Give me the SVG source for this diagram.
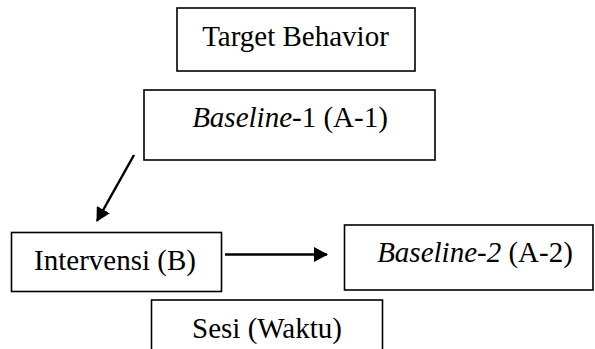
<svg xmlns="http://www.w3.org/2000/svg" width="595" height="349" viewBox="0 0 595 349">
<style>
.box{fill:#fff;stroke:#000;stroke-width:1.6}
.t{font-family:"Liberation Serif","Times New Roman",serif;font-size:29px;fill:#000;text-anchor:middle}
.c{stroke:#000;stroke-width:2.5;fill:none}
</style>
<defs>
<marker id="ah" viewBox="0 0 14 15" refX="13" refY="7.5" markerWidth="14" markerHeight="15" orient="auto" markerUnits="userSpaceOnUse">
<path d="M0,0 L14,7.5 L0,15 z" fill="#000"/>
</marker>
</defs>
<rect width="595" height="349" fill="#fff"/>
<g id="target">
<rect class="box" x="177" y="8" width="238" height="63"/>
<text class="t" x="295.5" y="46">Target Behavior</text>
</g>
<g id="baseline1">
<rect class="box" x="144" y="90" width="291" height="70"/>
<text class="t" x="290" y="126.5"><tspan font-style="italic">Baseline</tspan>-1 (A-1)</text>
</g>
<g id="intervensi">
<rect class="box" x="11.5" y="232.5" width="210" height="59"/>
<text class="t" x="115" y="269.5">Intervensi (B)</text>
</g>
<g id="baseline2">
<rect class="box" x="344.5" y="225" width="248.5" height="65"/>
<text class="t" x="475" y="262"><tspan font-style="italic">Baseline-2</tspan> (A-2)</text>
</g>
<g id="sesi">
<rect class="box" x="151.5" y="300" width="231" height="60"/>
<text class="t" x="267" y="338">Sesi (Waktu)</text>
</g>
<g id="connectors">
<line class="c" x1="134" y1="155" x2="97" y2="221" marker-end="url(#ah)"/>
<line class="c" x1="225" y1="254.5" x2="327" y2="254.5" marker-end="url(#ah)"/>
</g>
</svg>
